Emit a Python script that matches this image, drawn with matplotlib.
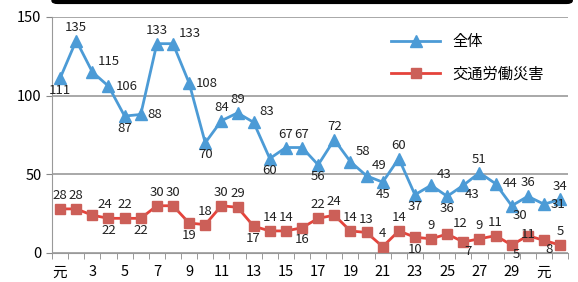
import numpy as np
import matplotlib.pyplot as plt
from matplotlib.patches import FancyBboxPatch

plt.rcParams['font.family'] = ['Noto Sans CJK JP', 'DejaVu Sans']

# data (Heisei 1 .. 30, Reiwa 1, 2)
years = list(range(1, 33))
xlabels = ['元', '3', '5', '7', '9', '11', '13', '15', '17', '19', '21',
           '23', '25', '27', '29', '元']
total = [111, 135, 115, 106, 87, 88, 133, 133, 108, 70, 84, 89, 83, 60, 67, 67,
         56, 72, 58, 49, 45, 60, 37, 43, 36, 43, 51, 44, 30, 36, 31, 34]
traffic = [28, 28, 24, 22, 22, 22, 30, 30, 19, 18, 30, 29, 17, 14, 14, 16,
           22, 24, 14, 13, 4, 14, 10, 9, 12, 7, 9, 11, 5, 11, 8, 5]

# label placement: u=above, d=below, r=right, q=upper right, e=lower right, c=on point
pos_total = 'duqr' 'druq' 'rduu' 'qduu' 'duqq' 'dudq' 'deur' 'euru'
pos_traffic = 'uuqd' 'uduu' 'duuu' 'duud' 'uuuu' 'uudu' 'qeuu' 'eceu'
offs = {'u': (0, 5, 'center', 'bottom'), 'd': (0, -4, 'center', 'top'),
        'r': (5, 0, 'left', 'center'), 'q': (4, 3, 'left', 'bottom'),
        'e': (1, -2, 'left', 'top'), 'c': (0, 1, 'center', 'center')}

blue = '#4c9bd6'
red = '#e5433b'
redm = '#cc5f58'

fig = plt.figure(figsize=(5.78, 2.82), dpi=100)
ax = fig.add_axes([0.09, 0.103, 0.893, 0.837])

ax.plot(years, total, color=blue, lw=2, marker='^', ms=9, mfc=blue, mec=blue,
        label='全体')
ax.plot(years, traffic, color=red, lw=2, marker='s', ms=7, mfc=redm, mec=redm,
        label='交通労働災害')

for xs, ys, pp in [(years, total, pos_total), (years, traffic, pos_traffic)]:
    for x, y, p in zip(xs, ys, pp):
        dx, dy, ha, va = offs[p]
        ax.annotate(str(y), (x, y), xytext=(dx, dy), textcoords='offset points',
                    ha=ha, va=va, fontsize=9.5, color='#222222')

ax.set_xlim(0.5, 32.5)
ax.set_ylim(0, 150)
ax.set_yticks([0, 50, 100, 150])
ax.set_xticks(np.arange(0.5, 33, 1), minor=True)
ax.set_xticks(range(1, 32, 2))
ax.set_xticklabels(xlabels)
ax.tick_params(axis='x', which='major', length=0, pad=9, labelsize=10.5)
ax.tick_params(axis='x', which='minor', length=4, direction='out', color='#888888')
ax.tick_params(axis='y', length=4, color='#888888', labelsize=10.5)
ax.grid(axis='y', color='#999999', lw=1.2)
for s in ['top', 'right']:
    ax.spines[s].set_visible(False)
ax.spines['left'].set_color('#999999')
ax.spines['bottom'].set_color('#999999')

leg = ax.legend(loc='upper right', bbox_to_anchor=(0.98, 0.99), frameon=False,
                fontsize=11, handlelength=3.2, labelspacing=1.0)

# black frame edge cut at the top of the picture
fig.patches.append(FancyBboxPatch((0.09, 0.988), 0.9, 0.05, boxstyle='round,pad=0,rounding_size=0.01',
                                  transform=fig.transFigure, facecolor='black',
                                  edgecolor='black'))

fig.savefig('out.png', dpi=100)
